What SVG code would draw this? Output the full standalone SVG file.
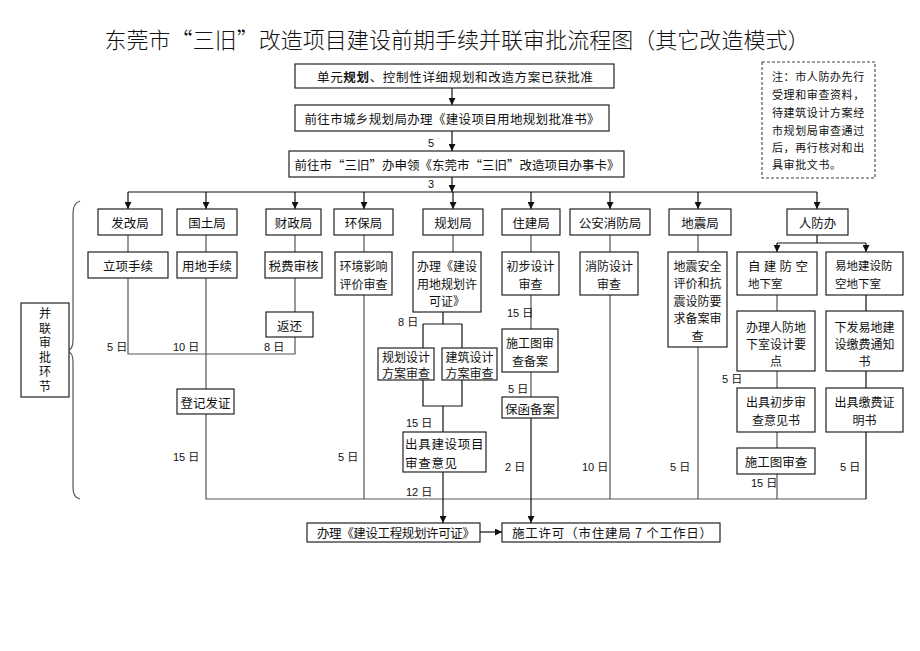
<svg xmlns="http://www.w3.org/2000/svg" width="920" height="651" viewBox="0 0 920 651">
<style>
.b{fill:#fff;stroke:#222;stroke-width:1.2}
.n{fill:#fff;stroke:#444;stroke-width:1.1;stroke-dasharray:3 2}
.t{font-family:"Noto Sans CJK SC","Noto Sans CJK JP",sans-serif;font-size:12.5px;fill:#111;text-anchor:middle;dominant-baseline:central}
.m{font-size:12px}
.l{text-anchor:start}
.s{font-size:11.5px}
.d{font-family:"Liberation Sans","Noto Sans CJK SC",sans-serif;font-size:11px;fill:#111;dominant-baseline:central}
.c{stroke:#555;stroke-width:1.2;fill:none}
.k{stroke:#111;stroke-width:1.2;fill:none}
.a{marker-end:url(#ah)}
</style>
<defs>
<marker id="ah" viewBox="0 0 10 10" refX="10" refY="5" markerWidth="7" markerHeight="7" markerUnits="userSpaceOnUse" orient="auto">
<path d="M0,0 L10,5 L0,10 z" fill="#111"/>
</marker>
</defs>
<rect width="920" height="651" fill="#fff"/>

<text class="t" x="457" y="38" style="font-size:22px;font-weight:300" textLength="705" lengthAdjust="spacing">东莞市“三旧”改造项目建设前期手续并联审批流程图（其它改造模式）</text>

<g id="connectors">
<path class="k a" d="M452,88 V105"/>
<path class="k a" d="M452,131 V151"/>
<path class="k a" d="M452,177 V192"/>
<path class="k" d="M128,192 H817"/>
<path class="k a" d="M128,192 V209"/>
<path class="k a" d="M206,192 V209"/>
<path class="k a" d="M295,192 V209"/>
<path class="k a" d="M364,192 V209"/>
<path class="k a" d="M453,192 V209"/>
<path class="k a" d="M531,192 V209"/>
<path class="k a" d="M610,192 V209"/>
<path class="k a" d="M698,192 V209"/>
<path class="k a" d="M817,192 V209"/>
<path class="c" d="M128,235 V252 M206,235 V252 M295,235 V252 M364,235 V252 M453,235 V252 M531,235 V252 M610,235 V252 M698,235 V252"/>
<path class="k" d="M817,235 V243 M777,243 H866"/>
<path class="k a" d="M777,243 V252"/>
<path class="k a" d="M866,243 V252"/>
<path class="c" d="M128,278 V354 H295 V337 M295,278 V312"/>
<path class="c" d="M206,278 V389 M206,414 V499 H866"/>
<path class="c" d="M364,295 V499"/>
<path class="k" d="M443,312 V324 M423,324 H462 M423,324 V348 M462,324 V348 M423,380 V406 H462 V380 M443,406 V432"/>
<path class="k a" d="M443,472 V523"/>
<path class="c" d="M531,295 V329 M531,372 V397"/>
<path class="k a" d="M531,418 V523"/>
<path class="c" d="M610,295 V499"/>
<path class="c" d="M698,347 V499"/>
<path class="c" d="M777,295 V311 M777,371 V388 M777,432 V448 M777,474 V499"/>
<path class="k" d="M866,295 V311 M866,371 V388 M866,432 V499"/>
<path class="k a" d="M480,532 H502"/>
<path class="c" d="M80,201 Q73,203 73,214 V340 Q73,350 67,351 Q73,352 73,362 V487 Q73,498 80,499" stroke-width="1"/>
</g>

<g id="top1"><rect class="b" x="295" y="64" width="319" height="24"/><text class="t" x="455" y="76" textLength="276" lengthAdjust="spacing">单元<tspan font-weight="bold">规划</tspan>、控制性详细规划和改造方案已获批准</text></g>
<g id="top2"><rect class="b" x="295" y="105" width="314" height="26"/><text class="t" x="452" y="118" textLength="295" lengthAdjust="spacing">前往市城乡规划局办理《建设项目用地规划批准书》</text></g>
<text class="d" x="428" y="143">5</text>
<g id="top3"><rect class="b" x="289" y="151" width="335" height="26"/><text class="t" x="457" y="164" textLength="325" lengthAdjust="spacing">前往市“三旧”办申领《东莞市“三旧”改造项目办事卡》</text></g>
<text class="d" x="428" y="184">3</text>

<g id="note"><rect class="n" x="762" y="62" width="113" height="116"/>
<text class="t l" style="font-size:11px;letter-spacing:0.6px" x="772" y="76">注：市人防办先行</text>
<text class="t l" style="font-size:11px;letter-spacing:0.6px" x="772" y="94">受理和审查资料，</text>
<text class="t l" style="font-size:11px;letter-spacing:0.6px" x="772" y="112">待建筑设计方案经</text>
<text class="t l" style="font-size:11px;letter-spacing:0.6px" x="772" y="130">市规划局审查通过</text>
<text class="t l" style="font-size:11px;letter-spacing:0.6px" x="772" y="147">后，再行核对和出</text>
<text class="t l" style="font-size:11px;letter-spacing:0.6px" x="772" y="164">具审批文书。</text>
</g>

<g id="fgj"><rect class="b" x="98" y="209" width="64" height="26"/><text class="t" x="130" y="222">发改局</text></g>
<g id="gtj"><rect class="b" x="177" y="209" width="60" height="26"/><text class="t" x="207" y="222">国土局</text></g>
<g id="czj"><rect class="b" x="266" y="209" width="55" height="26"/><text class="t" x="293.5" y="222">财政局</text></g>
<g id="hbj"><rect class="b" x="334" y="209" width="59" height="26"/><text class="t" x="363.5" y="222">环保局</text></g>
<g id="ghj"><rect class="b" x="423" y="209" width="60" height="26"/><text class="t" x="453" y="222">规划局</text></g>
<g id="zjj"><rect class="b" x="502" y="209" width="58" height="26"/><text class="t" x="531" y="222">住建局</text></g>
<g id="xfj"><rect class="b" x="570" y="209" width="80" height="26"/><text class="t" x="610" y="222">公安消防局</text></g>
<g id="dzj"><rect class="b" x="669" y="209" width="62" height="26"/><text class="t" x="700" y="222">地震局</text></g>
<g id="rfb"><rect class="b" x="787" y="209" width="61" height="26"/><text class="t" x="817.5" y="222">人防办</text></g>

<g id="lxsx"><rect class="b" x="88" y="252" width="80" height="26"/><text class="t" x="128" y="265">立项手续</text></g>
<g id="ydsx"><rect class="b" x="177" y="252" width="60" height="26"/><text class="t" x="207" y="265">用地手续</text></g>
<g id="sfsh"><rect class="b" x="265" y="252" width="57" height="26"/><text class="t" x="293.5" y="265">税费审核</text></g>
<g id="hjyx"><rect class="b" x="335" y="252" width="57" height="43"/><text class="t m" x="363.5" y="265">环境影响</text><text class="t m" x="363.5" y="283">评价审查</text></g>
<g id="bljs"><rect class="b" x="413" y="252" width="68" height="60"/><text class="t m" x="447" y="265">办理《建设</text><text class="t m" x="447" y="283">用地规划许</text><text class="t m" x="447" y="300">可证》</text></g>
<g id="cbsj"><rect class="b" x="502" y="252" width="57" height="43"/><text class="t m" x="530.5" y="265">初步设计</text><text class="t m" x="530.5" y="283">审查</text></g>
<g id="xfsj"><rect class="b" x="580" y="252" width="58" height="43"/><text class="t m" x="609" y="265">消防设计</text><text class="t m" x="609" y="283">审查</text></g>
<g id="dzaq"><rect class="b" x="668" y="252" width="59" height="95"/><text class="t m" x="697.5" y="265">地震安全</text><text class="t m" x="697.5" y="282">评价和抗</text><text class="t m" x="697.5" y="300">震设防要</text><text class="t m" x="697.5" y="317">求备案审</text><text class="t m" x="697.5" y="335">查</text></g>
<g id="zjfk"><rect class="b" x="737" y="252" width="80" height="43"/><text class="t l" style="letter-spacing:3.3px" x="748" y="265">自建防空</text><text class="t l" style="font-size:11.5px" x="748" y="283">地下室</text></g>
<g id="ydjs"><rect class="b" x="826" y="252" width="77" height="43"/><text class="t l s" x="835" y="265">易地建设防</text><text class="t l s" x="835" y="283">空地下室</text></g>

<g id="fh"><rect class="b" x="266" y="312" width="47" height="25"/><text class="t" x="289.5" y="325">返还</text></g>
<g id="djfz"><rect class="b" x="177" y="389" width="57" height="25"/><text class="t" x="205.5" y="402">登记发证</text></g>
<g id="ghsj"><rect class="b" x="378" y="348" width="56" height="32"/><text class="t m" x="406" y="356">规划设计</text><text class="t m" x="406" y="372">方案审查</text></g>
<g id="jzsj"><rect class="b" x="442" y="348" width="55" height="32"/><text class="t m" x="469.5" y="356">建筑设计</text><text class="t m" x="469.5" y="372">方案审查</text></g>
<g id="cjjs"><rect class="b" x="403" y="432" width="83" height="40"/><text class="t l" style="letter-spacing:0.7px" x="405" y="443">出具建设项目</text><text class="t l" style="letter-spacing:0.7px" x="405" y="462">审查意见</text></g>
<g id="sgtba"><rect class="b" x="502" y="329" width="56" height="43"/><text class="t m" x="530" y="342">施工图审</text><text class="t m" x="530" y="360">查备案</text></g>
<g id="bhba"><rect class="b" x="502" y="397" width="56" height="21"/><text class="t" x="530" y="408">保函备案</text></g>
<g id="blrf"><rect class="b" x="737" y="311" width="78" height="60"/><text class="t m" x="776" y="326">办理人防地</text><text class="t m" x="776" y="343">下室设计要</text><text class="t m" x="776" y="360">点</text></g>
<g id="xfyd"><rect class="b" x="826" y="311" width="77" height="60"/><text class="t m" x="864.5" y="326">下发易地建</text><text class="t m" x="864.5" y="343">设缴费通知</text><text class="t m" x="864.5" y="360">书</text></g>
<g id="cjcb"><rect class="b" x="737" y="388" width="78" height="44"/><text class="t m" x="776" y="401">出具初步审</text><text class="t m" x="776" y="419">查意见书</text></g>
<g id="cjjf"><rect class="b" x="826" y="388" width="77" height="44"/><text class="t m" x="864.5" y="401">出具缴费证</text><text class="t m" x="864.5" y="419">明书</text></g>
<g id="sgtsc"><rect class="b" x="737" y="448" width="78" height="26"/><text class="t" x="776" y="461">施工图审查</text></g>

<g id="blgc"><rect class="b" x="307" y="523" width="173" height="19"/><text class="t" x="396" y="532.5" textLength="158" lengthAdjust="spacing">办理《建设工程规划许可证》</text></g>
<g id="sgxk"><rect class="b" x="502" y="523" width="218" height="19"/><text class="t" x="612" y="532.5" textLength="200" lengthAdjust="spacing">施工许可（市住建局 7 个工作日）</text></g>

<g id="blhj"><rect class="b" x="21" y="303" width="48" height="94" stroke-width="1"/>
<text class="t" style="font-size:12px;writing-mode:vertical-rl;letter-spacing:2.5px" x="45" y="351">并联审批环节</text></g>

<g id="days">
<text class="d" x="107" y="347">5 日</text>
<text class="d" x="173" y="347">10 日</text>
<text class="d" x="264" y="347">8 日</text>
<text class="d" x="398" y="322">8 日</text>
<text class="d" x="173" y="457">15 日</text>
<text class="d" x="338" y="457">5 日</text>
<text class="d" x="406" y="423">15 日</text>
<text class="d" x="406" y="492">12 日</text>
<text class="d" x="507" y="313">15 日</text>
<text class="d" x="508" y="389">5 日</text>
<text class="d" x="505" y="467">2 日</text>
<text class="d" x="582" y="467">10 日</text>
<text class="d" x="670" y="467">5 日</text>
<text class="d" x="722" y="379">5 日</text>
<text class="d" x="751" y="483">15 日</text>
<text class="d" x="840" y="467">5 日</text>
</g>
</svg>
